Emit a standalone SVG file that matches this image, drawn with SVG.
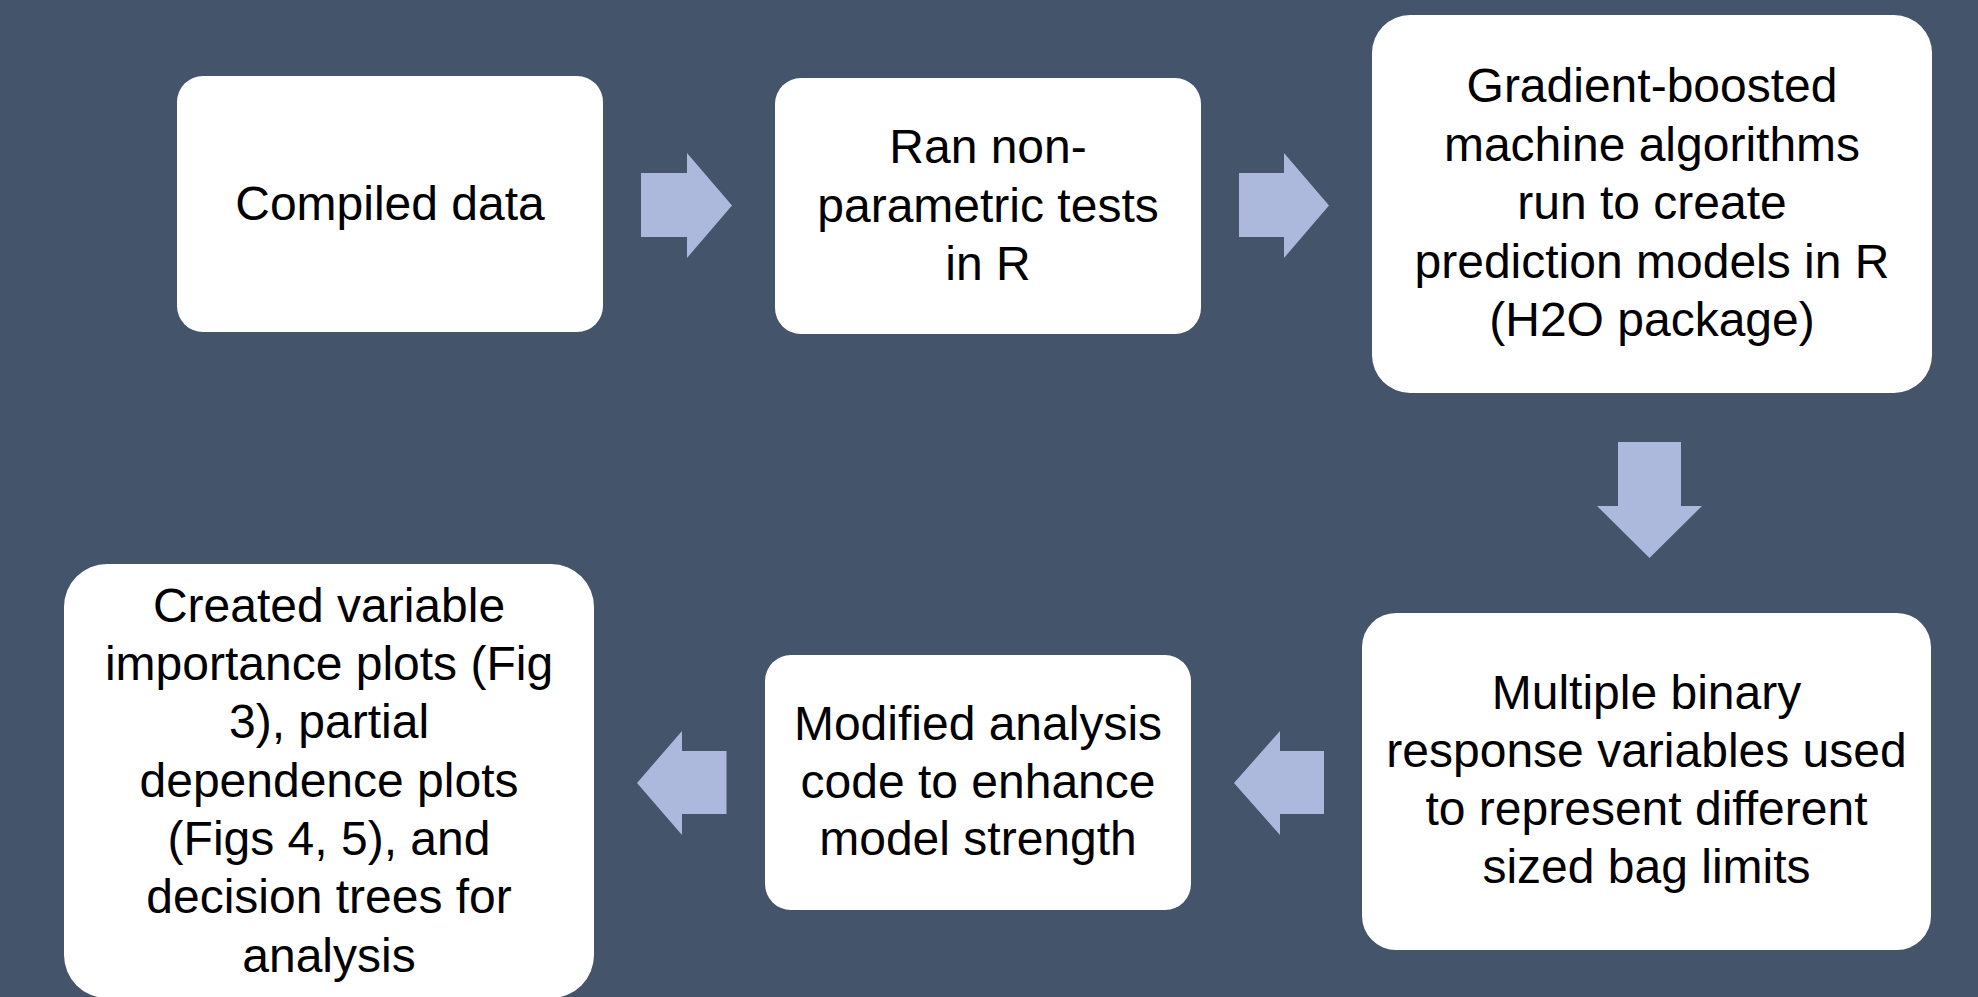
<svg xmlns="http://www.w3.org/2000/svg" width="1978" height="997" viewBox="0 0 1978 997">
<style>
.box{fill:#ffffff;}
.arrow{fill:#ADB9DC;}
.t{font-family:"Liberation Sans",Arial,sans-serif;font-size:48px;fill:#000000;text-anchor:middle;}
</style>
<rect x="0" y="0" width="1978" height="997" fill="#44546A"/>
<g id="connectors">
<polygon class="arrow" points="641,173 687,173 687,153 732,205.5 687,258 687,237 641,237"/>
<polygon class="arrow" points="1239,173 1284,173 1284,153 1329,205.5 1284,258 1284,237 1239,237"/>
<polygon class="arrow" points="1618,442 1681,442 1681,506 1702,506 1649.5,558 1597,506 1618,506"/>
<polygon class="arrow" points="1324,751 1280,751 1280,731 1234,783 1280,835 1280,814 1324,814"/>
<polygon class="arrow" points="726.5,751 682,751 682,731 637,783 682,835 682,814 726.5,814"/>
</g>
<g id="node-compiled">
<rect class="box" x="177" y="76" width="426" height="256" rx="26" ry="26"/>
<text class="t" x="390" y="220">Compiled data</text>
</g>
<g id="node-nonparametric">
<rect class="box" x="775" y="78" width="426" height="256" rx="26" ry="26"/>
<text class="t" x="988" y="163">Ran non-</text>
<text class="t" x="988" y="222">parametric tests</text>
<text class="t" x="988" y="280">in R</text>
</g>
<g id="node-gbm">
<rect class="box" x="1372" y="15" width="560" height="378" rx="38" ry="38"/>
<text class="t" x="1652" y="102">Gradient-boosted</text>
<text class="t" x="1652" y="160.5">machine algorithms</text>
<text class="t" x="1652" y="219">run to create</text>
<text class="t" x="1652" y="277.5">prediction models in R</text>
<text class="t" x="1652" y="336">(H2O package)</text>
</g>
<g id="node-binary">
<rect class="box" x="1362" y="613" width="569" height="337" rx="34" ry="34"/>
<text class="t" x="1646.5" y="709">Multiple binary</text>
<text class="t" x="1646.5" y="767">response variables used</text>
<text class="t" x="1646.5" y="825">to represent different</text>
<text class="t" x="1646.5" y="883">sized bag limits</text>
</g>
<g id="node-modified">
<rect class="box" x="765" y="655" width="426" height="255" rx="26" ry="26"/>
<text class="t" x="978" y="740">Modified analysis</text>
<text class="t" x="978" y="798">code to enhance</text>
<text class="t" x="978" y="855">model strength</text>
</g>
<g id="node-created">
<rect class="box" x="64" y="564" width="530" height="434" rx="43" ry="43"/>
<text class="t" x="329" y="622">Created variable</text>
<text class="t" x="329" y="680">importance plots (Fig</text>
<text class="t" x="329" y="738">3), partial</text>
<text class="t" x="329" y="797">dependence plots</text>
<text class="t" x="329" y="855">(Figs 4, 5), and</text>
<text class="t" x="329" y="913">decision trees for</text>
<text class="t" x="329" y="972">analysis</text>
</g>
</svg>
